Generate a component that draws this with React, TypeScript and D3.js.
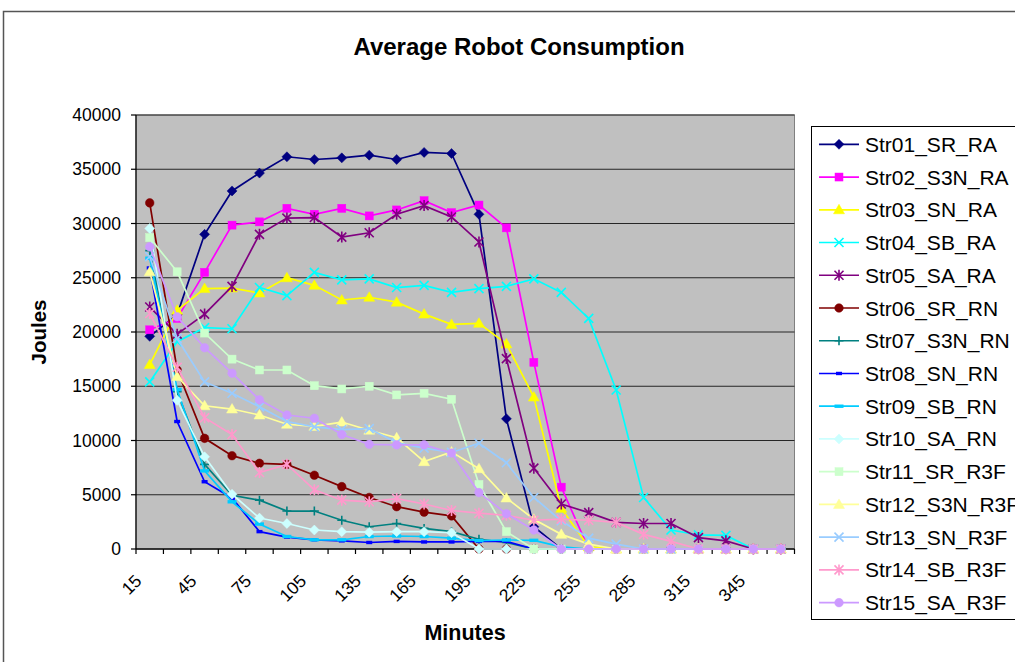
import React from "react";
import * as d3 from "d3";

const categories = [15, 30, 45, 60, 75, 90, 105, 120, 135, 150, 165, 180, 195, 210, 225, 240, 255, 270, 285, 300, 315, 330, 345, 360];
const yTicks = [0, 5000, 10000, 15000, 20000, 25000, 30000, 35000, 40000];

const str01 = [19600, 21600, 29000, 33000, 34650, 36150, 35900, 36050, 36300, 35900, 36550, 36450, 30850, 12000, 2050, 0, 0, 0, 0, 0, 0, 0, 0, 0];
const str02 = [20200, 21250, 25500, 29850, 30150, 31400, 30850, 31400, 30700, 31250, 32100, 31000, 31700, 29600, 17200, 5700, 0, 0, 0, 0, 0, 0, 0, 0];
const str03 = [17000, 22000, 24000, 24050, 23600, 25000, 24300, 22950, 23200, 22750, 21650, 20700, 20800, 18900, 14000, 3750, 200, 0, 0, 0, 0, 0, 0, 0];
const str04 = [15400, 19100, 20400, 20300, 24100, 23350, 25500, 24800, 24900, 24100, 24300, 23650, 24000, 24200, 24900, 23650, 21250, 14650, 4750, 1750, 1300, 1250, 0, 0];
const str05 = [22300, 19800, 21650, 24200, 29000, 30500, 30550, 28750, 29150, 30850, 31650, 30600, 28300, 17550, 7450, 4150, 3350, 2450, 2350, 2350, 1050, 750, 0, 0];
const str06 = [31900, 16500, 10200, 8600, 7900, 7800, 6800, 5750, 4750, 3900, 3400, 3050, 0, 0, 0, 0, 0, 0, 0, 0, 0, 0, 0, 0];
const str07 = [27500, 14500, 7800, 4950, 4500, 3500, 3500, 2650, 2050, 2350, 1900, 1600, 900, 600, 0, 0, 0, 0, 0, 0, 0, 0, 0, 0];
const str08 = [25900, 11750, 6200, 4700, 1600, 1100, 850, 750, 600, 700, 650, 650, 700, 700, 0, 0, 0, 0, 0, 0, 0, 0, 0, 0];
const str09 = [26800, 14700, 7200, 4350, 2300, 1150, 850, 850, 1150, 1200, 1150, 1000, 770, 830, 800, 200, 0, 0, 0, 0, 0, 0, 0, 0];
const str10 = [29550, 13700, 8500, 5050, 2850, 2350, 1750, 1600, 1550, 1600, 1600, 1500, 0, 0, 0, 0, 0, 0, 0, 0, 0, 0, 0, 0];
const str11 = [28700, 25550, 19900, 17500, 16500, 16500, 15050, 14750, 15000, 14200, 14350, 13800, 5950, 1600, 0, 0, 0, 0, 0, 0, 0, 0, 0, 0];
const str12 = [25550, 15900, 13200, 12900, 12350, 11500, 11300, 11700, 10950, 10250, 8050, 8950, 7400, 4700, 2750, 1350, 450, 0, 0, 0, 0, 0, 0, 0];
const str13 = [26950, 19400, 15400, 14350, 13100, 11750, 11250, 11000, 11100, 9800, 9300, 8900, 9750, 7950, 4750, 2600, 1000, 450, 0, 0, 0, 0, 0, 0];
const str14 = [21700, 16750, 12100, 10550, 7050, 7800, 5450, 4500, 4350, 4650, 4150, 3550, 3300, 3100, 2650, 2750, 2650, 2450, 1350, 700, 0, 0, 0, 0];
const str15 = [27850, 21400, 18550, 16200, 13750, 12350, 12050, 10550, 9650, 9600, 9600, 8850, 5200, 3250, 1750, 0, 0, 0, 0, 0, 0, 0, 0, 0];

const seriesNames = ["Str01_SR_RA", "Str02_S3N_RA", "Str03_SN_RA", "Str04_SB_RA", "Str05_SA_RA", "Str06_SR_RN", "Str07_S3N_RN", "Str08_SN_RN", "Str09_SB_RN", "Str10_SA_RN", "Str11_SR_R3F", "Str12_S3N_R3F", "Str13_SN_R3F", "Str14_SB_R3F", "Str15_SA_R3F"];
const seriesValues = [str01, str02, str03, str04, str05, str06, str07, str08, str09, str10, str11, str12, str13, str14, str15];
const seriesColors = ["#000080", "#FF00FF", "#FFFF00", "#00FFFF", "#800080", "#800000", "#008080", "#0000FF", "#00CCFF", "#CCFFFF", "#CCFFCC", "#FFFF99", "#99CCFF", "#FF99CC", "#CC99FF"];
const seriesMarkers = ["diamond", "square", "triangle", "x", "star", "circle", "plus", "dashS", "dashL", "diamond", "square", "triangle", "x", "star", "circle"];

const FONT = "'Liberation Sans', Arial, sans-serif";

function Marker({ type, color, x, y }: { type: string; color: string; x: number; y: number }) {
  const t = `translate(${x},${y})`;
  switch (type) {
    case "diamond":
      return <path transform={t} d="M0,-5L5,0L0,5L-5,0Z" fill={color} stroke={color} strokeWidth={0.5} />;
    case "square":
      return <rect transform={t} x={-4} y={-4} width={8} height={8} fill={color} stroke={color} strokeWidth={0.5} />;
    case "triangle":
      return <path transform={t} d="M0,-5.5L5.5,4L-5.5,4Z" fill={color} stroke={color} strokeWidth={0.5} />;
    case "x":
      return <path transform={t} d="M-4.5,-4.5L4.5,4.5M-4.5,4.5L4.5,-4.5" fill="none" stroke={color} strokeWidth={1.6} />;
    case "star":
      return <path transform={t} d="M-4.5,-4.5L4.5,4.5M-4.5,4.5L4.5,-4.5M0,-5.5L0,5.5" fill="none" stroke={color} strokeWidth={1.6} />;
    case "circle":
      return <circle transform={t} r={4.3} fill={color} stroke={color} strokeWidth={0.5} />;
    case "plus":
      return <path transform={t} d="M-4.5,0L4.5,0M0,-4.5L0,4.5" fill="none" stroke={color} strokeWidth={1.6} />;
    case "dashS":
      return <rect transform={t} x={-3} y={-1.7} width={6} height={3.4} fill={color} />;
    case "dashL":
      return <rect transform={t} x={-4.5} y={-1.7} width={9} height={3.4} fill={color} />;
    default:
      return null;
  }
}

export default function App() {
  const W = 1015;
  const H = 662;
  const left = 136;
  const right = 794.5;
  const top = 115;
  const bottom = 549;

  const x = d3.scaleBand<number>().domain(categories).range([left, right]).padding(0);
  const bw = x.bandwidth();
  const cx = (c: number) => (x(c) as number) + bw / 2;
  const y = d3.scaleLinear().domain([0, 40000]).range([bottom, top]);

  const line = d3
    .line<number>()
    .x((_, i) => cx(categories[i]))
    .y((v) => y(v));

  const tickBounds = d3.range(categories.length + 1).map((k) => left + k * bw);

  const legendX = 811;
  const legendY = 126;
  const rowH = 32.74;
  const firstRow = 144.3;

  return (
    <svg width={W} height={H} style={{ position: "absolute", left: 0, top: 0, background: "#fff" }} fontFamily={FONT}>
      <rect x={0} y={0} width={W} height={H} fill="#fff" />
      <rect x={3.5} y={11.5} width={1200} height={1000} fill="none" stroke="#555" strokeWidth={1.5} />

      <text x={519} y={55} textAnchor="middle" fontSize={24} fontWeight="bold" fill="#000">
        Average Robot Consumption
      </text>

      {/* plot area */}
      <rect x={left} y={top} width={right - left} height={bottom - top} fill="#C0C0C0" stroke="#808080" strokeWidth={1} />
      {yTicks.map((t) => (
        <line key={"g" + t} x1={left} x2={right} y1={y(t)} y2={y(t)} stroke="#262626" strokeWidth={1.2} />
      ))}
      <line x1={left} x2={left} y1={top} y2={bottom} stroke="#000" strokeWidth={1.2} />
      <line x1={left} x2={right} y1={bottom} y2={bottom} stroke="#000" strokeWidth={1.2} />
      {yTicks.map((t) => (
        <g key={"yt" + t}>
          <line x1={left - 5} x2={left} y1={y(t)} y2={y(t)} stroke="#000" strokeWidth={1.2} />
          <text x={121} y={y(t)} textAnchor="end" dominantBaseline="central" fontSize={17.5} fill="#000">
            {t}
          </text>
        </g>
      ))}
      {tickBounds.map((tx, k) => (
        <line key={"xt" + k} x1={tx} x2={tx} y1={bottom} y2={bottom + 5} stroke="#000" strokeWidth={1.2} />
      ))}
      {categories.map((c, i) =>
        i % 2 === 0 ? (
          <text key={"xl" + c} transform={`translate(${cx(c) - 7},582) rotate(-45)`} textAnchor="end" fontSize={17.5} fill="#000">
            {c}
          </text>
        ) : null
      )}

      <text transform="translate(46,332) rotate(-90)" textAnchor="middle" fontSize={20.5} fontWeight="bold" fill="#000">
        Joules
      </text>
      <text x={465} y={640} textAnchor="middle" fontSize={21.5} fontWeight="bold" fill="#000">
        Minutes
      </text>

      {/* series */}
      {seriesValues.map((vals, si) => (
        <g key={"s" + si}>
          <path d={line(vals) as string} fill="none" stroke={seriesColors[si]} strokeWidth={1.7} />
          {vals.map((v, i) => (
            <Marker key={i} type={seriesMarkers[si]} color={seriesColors[si]} x={cx(categories[i])} y={y(v)} />
          ))}
        </g>
      ))}

      {/* legend */}
      <rect x={legendX + 0.5} y={legendY + 0.5} width={400} height={493} fill="#fff" stroke="#000" strokeWidth={1} />
      {seriesNames.map((name, si) => {
        const ry = firstRow + si * rowH;
        return (
          <g key={"l" + si}>
            <line x1={819} x2={859} y1={ry} y2={ry} stroke={seriesColors[si]} strokeWidth={1.7} />
            <Marker type={seriesMarkers[si]} color={seriesColors[si]} x={839} y={ry} />
            <text x={865} y={ry} dominantBaseline="central" fontSize={21} fill="#000">
              {name}
            </text>
          </g>
        );
      })}
    </svg>
  );
}
